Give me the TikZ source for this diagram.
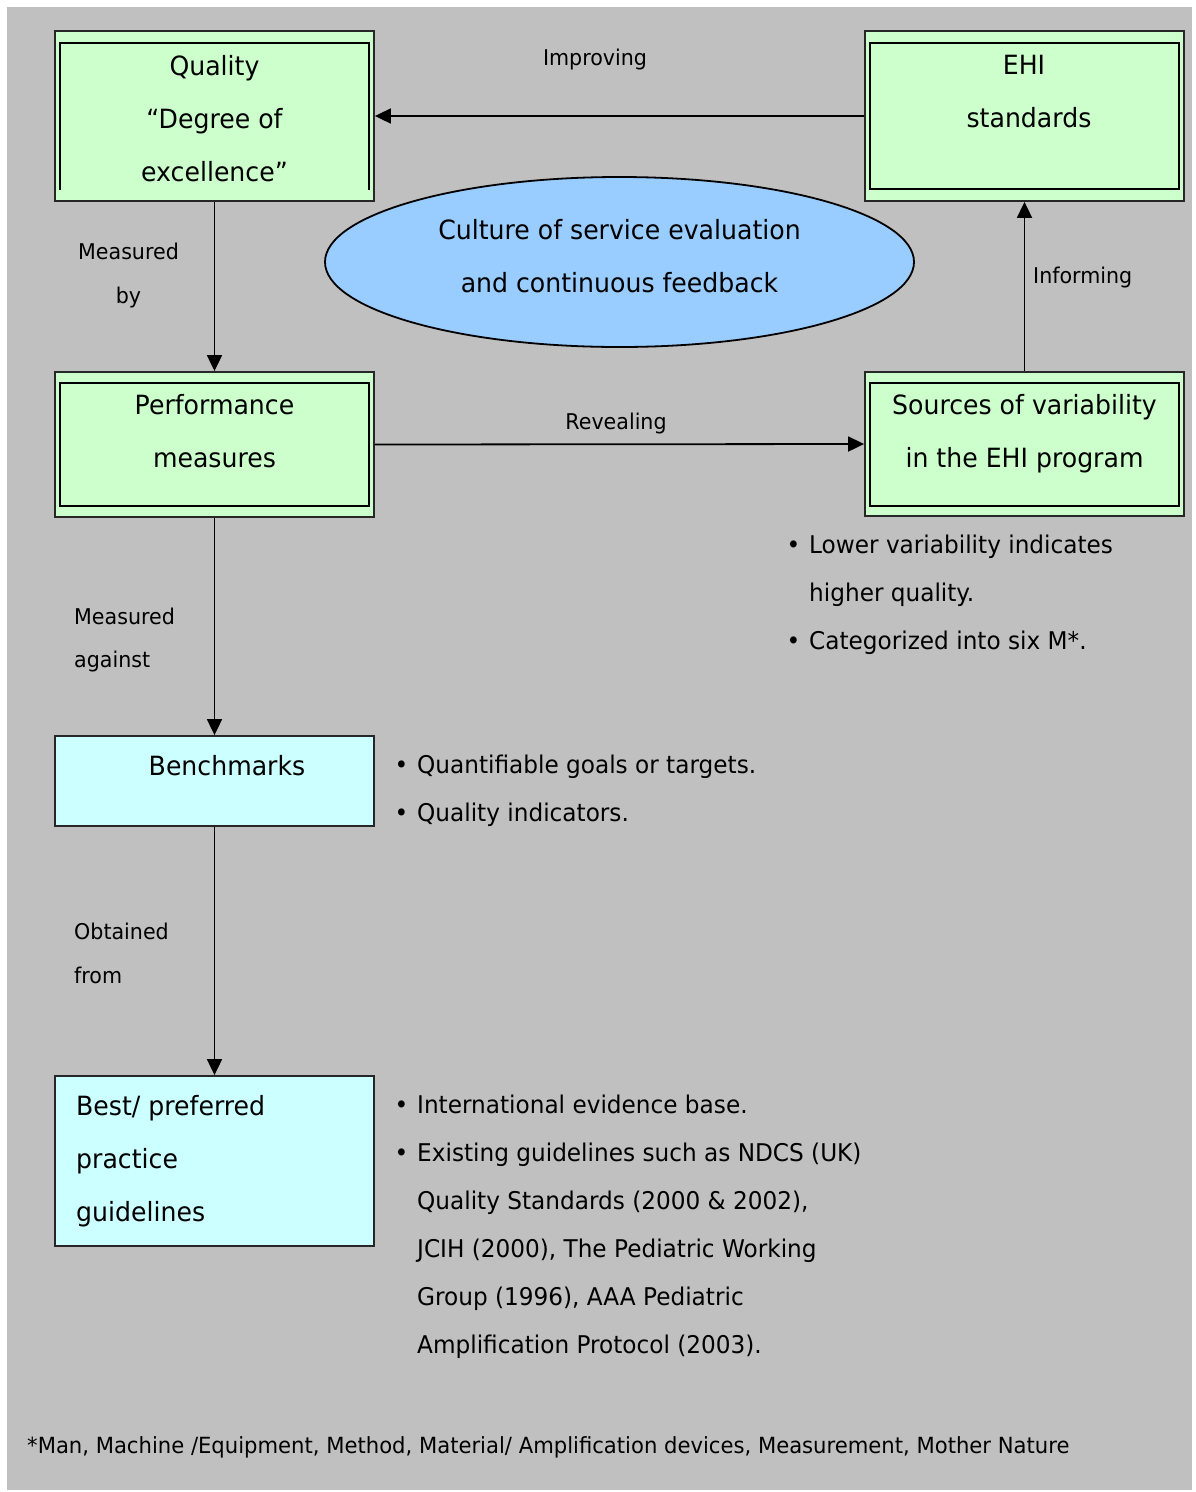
\documentclass[tikz,border=0pt]{standalone}
\usepackage{fontspec}
\setmainfont{DejaVu Sans}[FakeStretch=0.95]
\usetikzlibrary{arrows.meta,shapes.geometric}
\definecolor{bg}{HTML}{C0C0C0}
\definecolor{boxgreen}{HTML}{CCFFCC}
\definecolor{boxcyan}{HTML}{CCFFFF}
\definecolor{ellblue}{HTML}{99CCFF}
\newcommand{\bul}{\llap{•\hskip 9pt}}
\begin{document}
\begin{tikzpicture}[x=1pt,y=-1pt,
  box/.style={draw=black!85, line width=1.8pt, minimum width=319pt, inner sep=0pt},
  gbox/.style={box, fill=boxgreen},
  cbox/.style={box, fill=boxcyan},
  innerframe/.style={draw=black, line width=2.8pt},
  bt/.style={anchor=base, inner sep=0pt, font=\fontsize{26.5}{30}\selectfont},
  btl/.style={bt, anchor=base west},
  lt/.style={anchor=base, inner sep=0pt, font=\fontsize{21.7}{26}\selectfont},
  ltl/.style={lt, anchor=base west},
  bu/.style={anchor=base west, inner sep=0pt, font=\fontsize{24.4}{28}\selectfont},
  arr/.style={line width=1.8pt, -{Triangle[length=16pt,width=15pt]}}
]
% background
\useasboundingbox (0,0) rectangle (1195,1492);
\fill[white] (0,0) rectangle (1195,1492);
\fill[bg] (7,7) rectangle (1192,1490);

% boxes
\node[gbox, minimum height=170pt] (q) at (214.5,116) {};
\draw[innerframe] (60,190) -- (60,43) -- (369,43) -- (369,190);
\node[gbox, minimum height=170pt] (ehi) at (1024.5,116) {};
\draw[innerframe] (870,43) rectangle (1179,189);
\node[gbox, minimum height=145pt] (pm) at (214.5,444.5) {};
\draw[innerframe] (60,383) rectangle (369,506);
\node[gbox, minimum height=144pt] (src) at (1024.5,444) {};
\draw[innerframe] (870,383) rectangle (1179,506);
\node[cbox, minimum height=90pt] (bm) at (214.5,781) {};
\node[cbox, minimum height=170pt] (bp) at (214.5,1161) {};
\node[ellipse, draw=black, line width=1.8pt, fill=ellblue, minimum width=589pt, minimum height=170pt] (cul) at (619.5,262) {};

% box texts
\node[bt] (q1) at (214.5,75) {Quality};
\node[bt] (q2) at (214.5,128) {“Degree of};
\node[bt] (q3) at (214.5,181.5) {excellence”};
\node[bt] (e1) at (1024,74.5) {EHI};
\node[bt] (e2) at (1029,127.5) {standards};
\node[bt] (p1) at (214.5,414.5) {Performance};
\node[bt] (p2) at (214.5,467.5) {measures};
\node[bt] (s1) at (1024.5,414.5) {Sources of variability};
\node[bt] (s2) at (1024.5,467.5) {in the EHI program};
\node[bt] (b1) at (227,775) {Benchmarks};
\node[btl] (g1) at (76,1115) {Best/ preferred};
\node[btl] (g2) at (76,1168) {practice};
\node[btl] (g3) at (76,1221) {guidelines};
\node[bt] (c1) at (619.5,239) {Culture of service evaluation};
\node[bt] (c2) at (619.5,292) {and continuous feedback};

% connectors
\draw[arr] (ehi.west) -- (q.east);
\draw[arr] (q.south) -- (pm.north);
\draw[arr] (pm.east) -- (src.west);
\draw[arr] (src.north) -- (ehi.south);
\draw[arr] (pm.south) -- (bm.north);
\draw[arr] (bm.south) -- (bp.north);

% connector labels
\node[lt] (l1) at (595,65) {Improving};
\node[lt] (l2) at (128.5,259) {Measured};
\node[lt] (l3) at (128.5,303) {by};
\node[lt] (l4) at (616,429.5) {Revealing};
\node[ltl] (l5) at (1033,283) {Informing};
\node[ltl] (l6) at (74,624) {Measured};
\node[ltl] (l7) at (74,667) {against};
\node[ltl] (l8) at (74,939) {Obtained};
\node[ltl] (l9) at (74,983) {from};

% bullets
\node[bu] (v1) at (809,553.5) {\bul Lower variability indicates};
\node[bu] (v2) at (809,601.5) {higher quality.};
\node[bu] (v3) at (809,649.5) {\bul Categorized into six M*.};
\node[bu] (k1) at (417,773.5) {\bul Quantifiable goals or targets.};
\node[bu] (k2) at (417,821) {\bul Quality indicators.};
\node[bu] (r1) at (417,1113.5) {\bul International evidence base.};
\node[bu] (r2) at (417,1161) {\bul Existing guidelines such as NDCS (UK)};
\node[bu] (r3) at (417,1209) {Quality Standards (2000 \& 2002),};
\node[bu] (r4) at (417,1257) {JCIH (2000), The Pediatric Working};
\node[bu] (r5) at (417,1305) {Group (1996), AAA Pediatric};
\node[bu] (r6) at (417,1353.5) {Amplification Protocol (2003).};

% footnote
\node[anchor=base west, inner sep=0pt, font=\fontsize{22.25}{26}\selectfont] (fn) at (27,1453) {*Man, Machine /Equipment, Method, Material/ Amplification devices, Measurement, Mother Nature};
\end{tikzpicture}
\end{document}
